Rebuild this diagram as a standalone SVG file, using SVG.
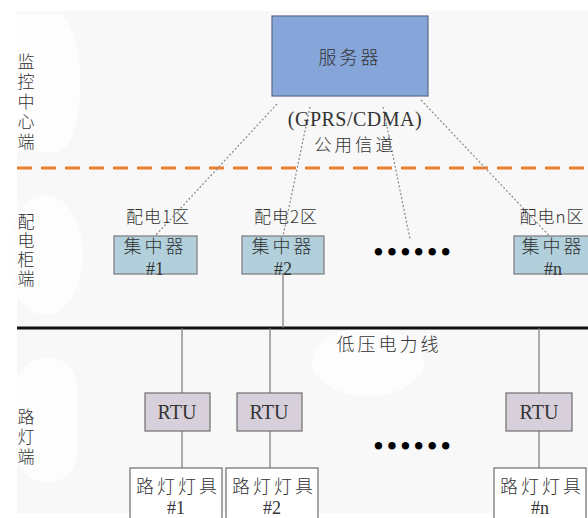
<svg xmlns="http://www.w3.org/2000/svg" width="588" height="518" viewBox="0 0 588 518">
<style>
.bg{fill:#f8f8f8}
.blob{fill:#fdfdfd}
.t{font-family:"Liberation Serif","Noto Sans CJK SC",serif;fill:#333;text-anchor:middle}
.cn{font-family:"Noto Sans CJK SC","Liberation Serif",sans-serif;fill:#333;text-anchor:middle;font-weight:300}
.side{font-family:"Noto Sans CJK SC",sans-serif;fill:#333;font-size:17px;font-weight:300;writing-mode:vertical-rl;text-anchor:start}
.conc rect{fill:#b2d0dc;stroke:#7a7a7a;stroke-width:1.2}
.rtu rect{fill:#d7d0da;stroke:#6e6e6e;stroke-width:1.2}
.lamp rect{fill:#ffffff;stroke:#6e6e6e;stroke-width:1.2}
.dot{stroke:#8a8a8a;stroke-width:1.2;stroke-dasharray:2,2;fill:none}
.wire{stroke:#7a7a7a;stroke-width:1.2;fill:none}
.ell{font-family:"Liberation Serif",serif;fill:#000;font-size:31px;letter-spacing:2.6px}
</style>
<rect x="0" y="0" width="588" height="518" fill="#ffffff"/>
<rect class="bg" x="17" y="11" width="571" height="502"/>
<path class="blob" d="M17,14 H62 Q82,40 80,90 Q78,140 60,152 H17 Z"/>
<ellipse class="blob" cx="45" cy="255" rx="38" ry="60"/>
<rect class="blob" x="17" y="358" width="60" height="124" rx="28"/>
<ellipse class="blob" cx="368" cy="362" rx="56" ry="34"/>

<g id="side-labels">
<text class="side" x="26" y="53" letter-spacing="3">监控中心端</text>
<text class="side" x="26" y="213" letter-spacing="2">配电柜端</text>
<text class="side" x="26" y="408" letter-spacing="3">路灯端</text>
</g>

<g id="connectors">
<line x1="17" y1="168" x2="588" y2="168" stroke="#ed7d31" stroke-width="3" stroke-dasharray="15,9"/>
<line class="dot" x1="277" y1="104" x2="155" y2="236"/>
<line class="dot" x1="310" y1="107" x2="283" y2="236"/>
<line class="dot" x1="383" y1="107" x2="410" y2="239"/>
<line class="dot" x1="421" y1="100" x2="557" y2="244"/>
<line x1="17" y1="328" x2="588" y2="328" stroke="#111" stroke-width="3"/>
<line class="wire" x1="283" y1="274" x2="283" y2="328"/>
<line class="wire" x1="182" y1="328" x2="182" y2="393"/>
<line class="wire" x1="270" y1="328" x2="270" y2="393"/>
<line class="wire" x1="539" y1="328" x2="539" y2="393"/>
<line class="wire" x1="182" y1="431" x2="182" y2="468"/>
<line class="wire" x1="270" y1="431" x2="270" y2="468"/>
<line class="wire" x1="539" y1="431" x2="539" y2="468"/>
</g>

<g id="server">
<rect x="272" y="16" width="156" height="80" fill="#86a5d9" stroke="#5a6a88" stroke-width="1.2"/>
<text class="cn" x="350" y="64" font-size="18" letter-spacing="3">服务器</text>
</g>
<g id="channel-label">
<text class="t" x="355" y="126" font-size="20" letter-spacing="0.5">(GPRS/CDMA)</text>
<text class="cn" x="355" y="151" font-size="17.5" letter-spacing="3">公用信道</text>
</g>

<g id="conc1" class="conc">
<text class="cn" x="158" y="223" font-size="17" letter-spacing="1">配电1区</text>
<rect x="114" y="236" width="83" height="38"/>
<text class="cn" x="155" y="253" font-size="18" letter-spacing="3">集中器</text>
<text class="t" x="155" y="274.5" font-size="18">#1</text>
</g>
<g id="conc2" class="conc">
<text class="cn" x="286" y="223" font-size="17" letter-spacing="1">配电2区</text>
<rect x="242" y="236" width="82" height="38"/>
<text class="cn" x="283" y="253" font-size="18" letter-spacing="3">集中器</text>
<text class="t" x="283" y="274.5" font-size="18">#2</text>
</g>
<g id="concn" class="conc">
<text class="cn" x="552" y="223" font-size="17" letter-spacing="1">配电n区</text>
<rect x="514" y="236" width="80" height="38"/>
<text class="cn" x="553" y="253" font-size="18" letter-spacing="3">集中器</text>
<text class="t" x="553" y="274.5" font-size="18">#n</text>
</g>

<g id="ellipsis1">
<text class="ell" x="373" y="263">••••••</text>
</g>

<g id="bus-label">
<text class="cn" x="389" y="351" font-size="18" letter-spacing="3">低压电力线</text>
</g>

<g id="rtu1" class="rtu">
<rect x="145" y="393" width="65" height="38"/>
<text class="t" x="177" y="419" font-size="20">RTU</text>
</g>
<g id="rtu2" class="rtu">
<rect x="237" y="393" width="65" height="38"/>
<text class="t" x="269" y="419" font-size="20">RTU</text>
</g>
<g id="rtun" class="rtu">
<rect x="506" y="393" width="66" height="38"/>
<text class="t" x="539" y="419" font-size="20">RTU</text>
</g>

<g id="ellipsis2">
<text class="ell" x="373" y="457">••••••</text>
</g>

<g id="lamp1" class="lamp">
<rect x="130" y="468" width="92" height="56"/>
<text class="cn" x="178" y="493" font-size="18" letter-spacing="3">路灯灯具</text>
<text class="t" x="176" y="514" font-size="18">#1</text>
</g>
<g id="lamp2" class="lamp">
<rect x="226" y="468" width="92" height="56"/>
<text class="cn" x="274" y="493" font-size="18" letter-spacing="3">路灯灯具</text>
<text class="t" x="272" y="514" font-size="18">#2</text>
</g>
<g id="lampn" class="lamp">
<rect x="494" y="468" width="92" height="56"/>
<text class="cn" x="542" y="493" font-size="18" letter-spacing="3">路灯灯具</text>
<text class="t" x="540" y="514" font-size="18">#n</text>
</g>
</svg>
